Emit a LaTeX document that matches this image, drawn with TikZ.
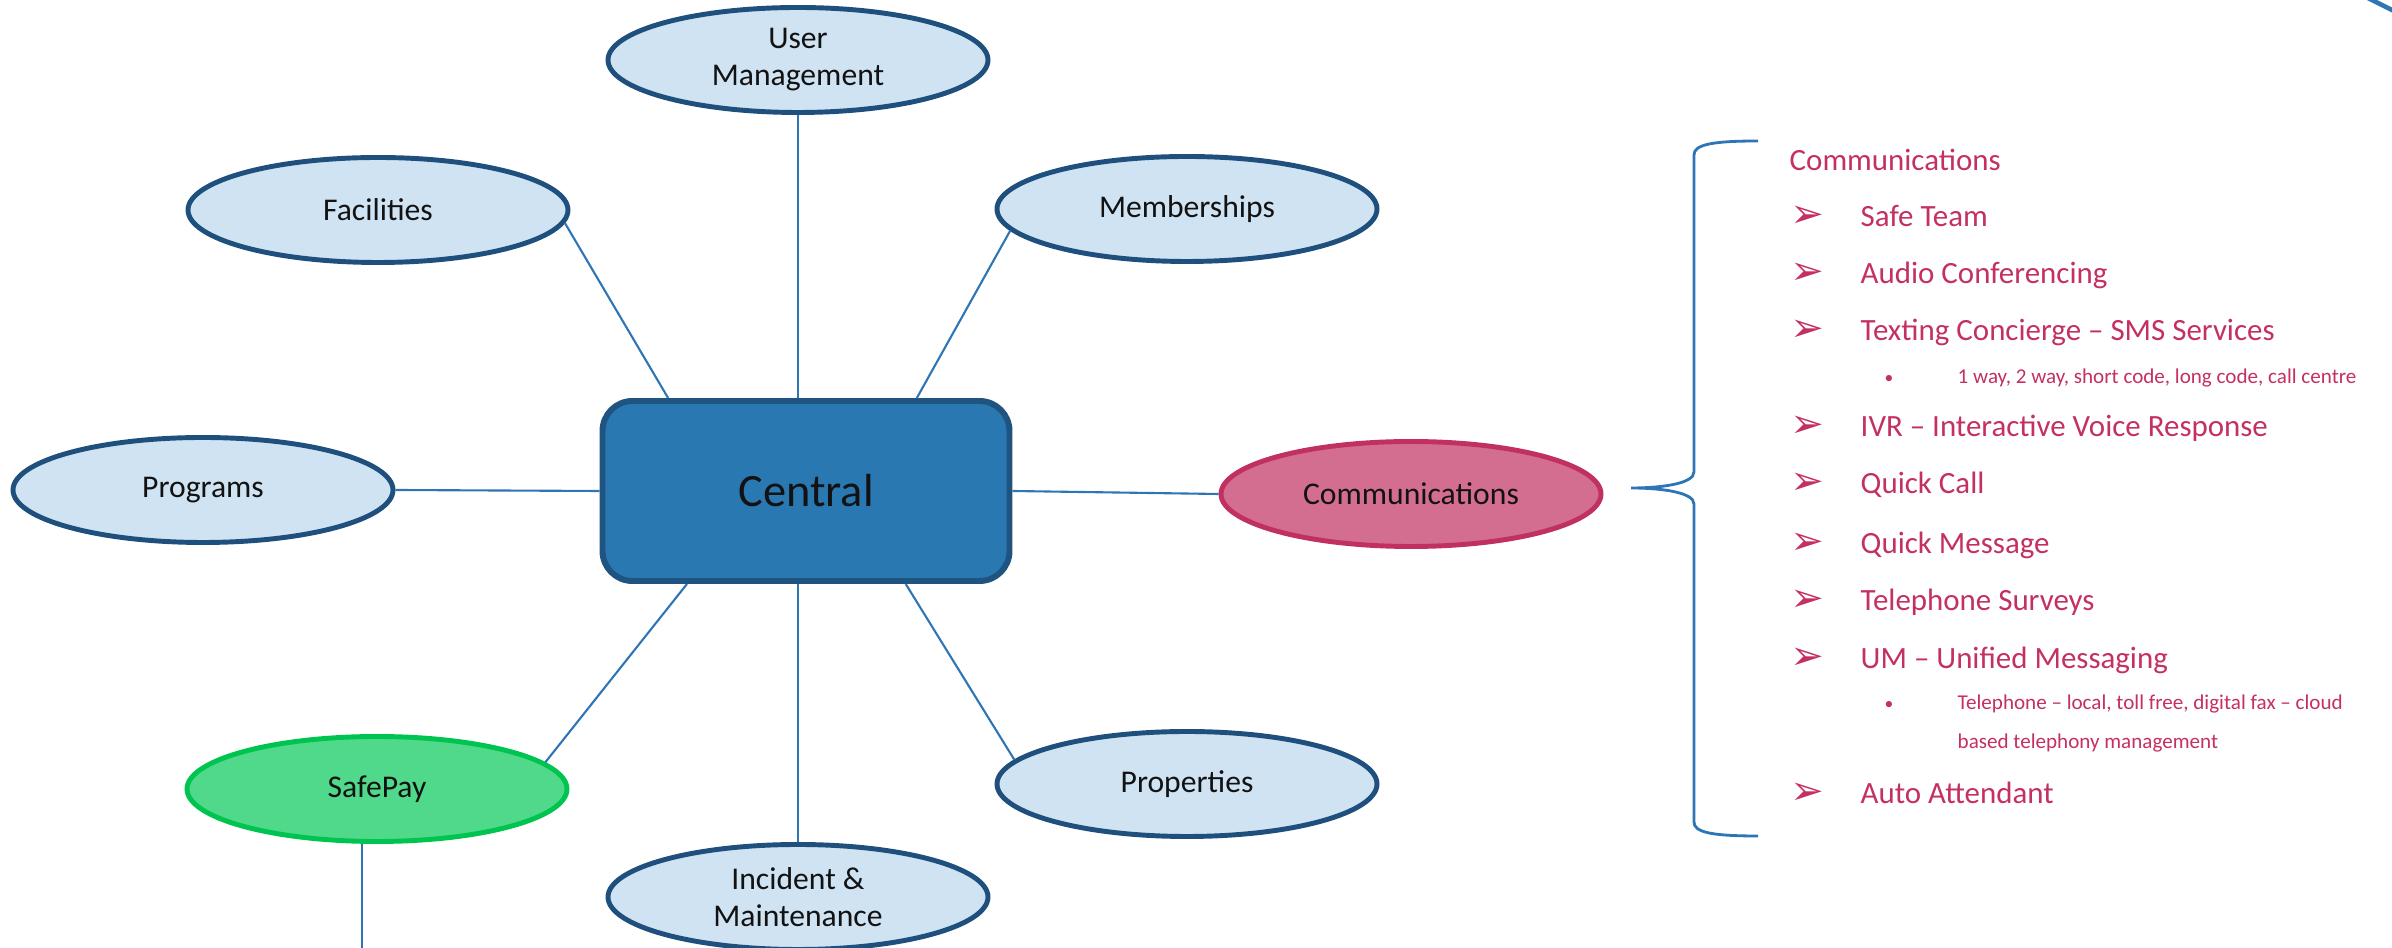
\documentclass[tikz,border=0pt]{standalone}
\usepackage{fontspec}
\setmainfont{Carlito}
\newfontfamily\dingfont{DejaVu Sans}
\usetikzlibrary{shapes.geometric}

\definecolor{bubblefill}{RGB}{207,227,243}
\definecolor{bubbleline}{RGB}{31,80,125}
\definecolor{hubfill}{RGB}{42,120,177}
\definecolor{hubline}{RGB}{31,84,128}
\definecolor{linkblue}{RGB}{46,117,182}
\definecolor{commfill}{RGB}{211,110,145}
\definecolor{commline}{RGB}{192,48,96}
\definecolor{payfill}{RGB}{80,217,138}
\definecolor{payline}{RGB}{0,196,80}
\definecolor{listred}{RGB}{196,48,96}

\newcommand{\itemarrow}{\makebox[0.7cm][l]{\raisebox{-0.3pt}{\dingfont\fontsize{11.5}{11.5}\selectfont ➢}}}
\newcommand{\itemdot}{\makebox[0.73cm][l]{\fontsize{5}{5}\selectfont •}}

\tikzset{ % shapes of the map
  bubble/.style={ellipse, draw=bubbleline, fill=bubblefill, line width=1.4pt,
    minimum width=3.8cm, minimum height=1.05cm, inner sep=0pt, align=center,
    text=black!93, font=\fontsize{9}{10.5}\selectfont},
  hub/.style={rectangle, rounded corners=0.3cm, draw=hubline, fill=hubfill,
    line width=1.7pt, minimum width=4.07cm, minimum height=1.8cm,
    text=black!93, font=\fontsize{13.2}{15}\selectfont},
  link/.style={draw=linkblue, line width=0.6pt},
  listitem/.style={anchor=west, inner sep=0pt, text=listred,
    font=\fontsize{8.8}{10}\selectfont},
  subitem/.style={listitem, align=left, font=\fontsize{6}{11.1}\selectfont}
}

\begin{document}
\begin{tikzpicture}
\useasboundingbox (0,0) rectangle (23.92,-9.48);

% the hub and its branches
\node [hub] (central) at (8.06,-4.91) {Central};
\node [bubble] (usermgmt) at (7.98,-0.60) {User\\Management};
\node [bubble] (facilities) at (3.78,-2.10) {Facilities};
\node [bubble] (memberships) at (11.87,-2.09) {Memberships};
\node [bubble] (programs) at (2.03,-4.90) {Programs};
\node [bubble, draw=commline, fill=commfill] (comm) at (14.11,-4.94) {Communications};
\node [bubble, draw=payline, fill=payfill] (safepay) at (3.77,-7.89) {SafePay};
\node [bubble] (properties) at (11.87,-7.84) {Properties};
\node [bubble] (incident) at (7.98,-8.97) {Incident \&\\Maintenance};
\coordinate (payout) at (3.62,-9.48);

\draw [link] (usermgmt.south) -- (usermgmt.south |- central.north);
\draw [link] (central.146) -- (facilities.-4);
\draw [link] (central.40) -- (memberships.187);
\draw [link] (central.west) -- (programs.east);
\draw [link] (central.east) -- (comm.west);
\draw [link] (central.218) -- (safepay.9);
\draw [link] (central.-43) -- (properties.172);
\draw [link] (incident.north) -- (incident.north |- central.south);
\draw [link] (payout |- safepay.south) -- (payout);

% brace in front of the list
\draw [linkblue, line width=0.8pt]
  (17.58,-1.41) .. controls (17.1,-1.41) and (16.94,-1.45) .. (16.94,-1.55)
  -- (16.94,-4.72) .. controls (16.94,-4.84) and (16.6,-4.88) .. (16.31,-4.88)
  .. controls (16.6,-4.88) and (16.94,-4.92) .. (16.94,-5.04)
  -- (16.94,-8.22) .. controls (16.94,-8.32) and (17.1,-8.36) .. (17.58,-8.36);

% communications services
\node [listitem] (listhead) at (17.89,-1.60) {Communications};
\foreach \name/\y/\txt in {safe/2.16/Safe Team, audio/2.75/Audio Conferencing,
    texting/3.32/Texting Concierge – SMS Services,
    ivr/4.28/IVR – Interactive Voice Response, quickcall/4.85/Quick Call,
    quickmsg/5.45/Quick Message, surveys/6.02/Telephone Surveys,
    um/6.60/UM – Unified Messaging, auto/7.93/Auto Attendant}
  \node [listitem] (\name) at (17.90,-\y) {\itemarrow\txt};
\node [subitem] (smsways) at (18.84,-3.78)
  {\itemdot 1 way, 2 way, short code, long code, call centre};
\node [subitem] (umlines) at (18.84,-7.235)
  {\itemdot Telephone – local, toll free, digital fax – cloud\\
   \hspace*{0.73cm}based telephony management};

% edge of a shape beyond the corner
\draw [linkblue, line width=1.3pt] (23.66,0.03) -- (23.98,-0.13);
\end{tikzpicture}
\end{document}
